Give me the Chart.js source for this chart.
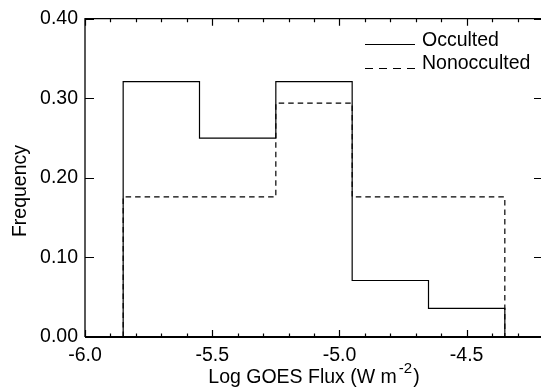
<!DOCTYPE html>
<html>
<head>
<meta charset="utf-8">
<script src="https://cdn.jsdelivr.net/npm/chart.js@4.4.0/dist/chart.umd.min.js"></script>
<style>
  html, body { margin: 0; padding: 0; background: #fff; overflow: hidden; }
  #wrap { position: absolute; left: 0; top: 0; width: 545px; height: 389px; }
</style>
</head>
<body>
<div id="wrap"><canvas id="histChart" width="545" height="389"></canvas></div>
<script>
// Histogram bins (log GOES flux) and fractions per bin
const binEdges = [-5.85, -5.55, -5.25, -4.95, -4.65, -4.35];
const occulted = [0.321, 0.250, 0.321, 0.071, 0.036];
const nonocculted = [0.176, 0.176, 0.294, 0.176, 0.176];
const seriesLabels = ['Occulted', 'Nonocculted'];
const xTicks = [-6.0, -5.5, -5.0, -4.5];
const yTicks = [0.0, 0.1, 0.2, 0.3, 0.4];
const xTitle = 'Log GOES Flux (W m';
const xTitleSup = '-2';
const yTitle = 'Frequency';

const FONT = "'Liberation Sans', Arial, Helvetica, sans-serif";
const FS = 19.5;

// turn bin values into step outline points
function toSteps(values) {
  const pts = [{ x: binEdges[0], y: 0 }];
  values.forEach((v, i) => pts.push({ x: binEdges[i], y: v }));
  pts.push({ x: binEdges[binEdges.length - 1], y: 0 });
  return pts;
}

// frame, inward ticks, legend and axis titles (IDL style)
const idlFrame = {
  id: 'idlFrame',
  afterDraw(chart) {
    const ctx = chart.ctx;
    const a = chart.chartArea;
    const xs = chart.scales.x;
    const ys = chart.scales.y;
    ctx.save();
    ctx.strokeStyle = '#000';
    ctx.setLineDash([]);

    // box
    ctx.lineWidth = 1.3;
    ctx.beginPath();
    ctx.moveTo(a.left, a.bottom);
    ctx.lineTo(a.left, a.top);
    ctx.lineTo(a.right, a.top);
    ctx.lineTo(a.right, a.bottom);
    ctx.stroke();
    ctx.lineWidth = 2;
    ctx.beginPath();
    ctx.moveTo(a.left, a.bottom);
    ctx.lineTo(a.right, a.bottom);
    ctx.stroke();

    // x ticks, minor every 0.1
    ctx.lineWidth = 1.2;
    ctx.beginPath();
    for (let k = 0; k <= 18; k++) {
      const v = xs.min + k * 0.1;
      const px = Math.round(xs.getPixelForValue(v)) + 0.5;
      const major = xTicks.some(t => Math.abs(t - v) < 1e-6);
      const len = major ? 7 : 3.5;
      ctx.moveTo(px, a.bottom);
      ctx.lineTo(px, a.bottom - len);
      ctx.moveTo(px, a.top);
      ctx.lineTo(px, a.top + len);
    }
    // y ticks
    yTicks.forEach(v => {
      const py = Math.round(ys.getPixelForValue(v)) + 0.5;
      ctx.moveTo(a.left, py);
      ctx.lineTo(a.left + 9, py);
      ctx.moveTo(a.right, py);
      ctx.lineTo(a.right - 9, py);
    });
    ctx.stroke();

    // legend
    ctx.fillStyle = '#000';
    ctx.font = FS + 'px ' + FONT;
    ctx.textAlign = 'left';
    ctx.textBaseline = 'alphabetic';
    const lx0 = 365, lx1 = 415;
    const rows = [{ y: 44.5, dash: [], base: 46 }, { y: 68.5, dash: [8, 6], base: 69 }];
    rows.forEach((r, i) => {
      ctx.lineWidth = 1.2;
      ctx.setLineDash(r.dash);
      ctx.beginPath();
      ctx.moveTo(lx0, r.y);
      ctx.lineTo(lx1, r.y);
      ctx.stroke();
      ctx.fillText(chart.data.datasets[i].label, 422, r.base);
    });
    ctx.setLineDash([]);

    // x title with superscript
    const mainFont = FS + 'px ' + FONT;
    const supFont = '15px ' + FONT;
    ctx.font = mainFont;
    const w1 = ctx.measureText(xTitle).width;
    const w3 = ctx.measureText(')').width;
    ctx.font = supFont;
    const w2 = ctx.measureText(xTitleSup).width;
    const total = w1 + 2 + w2 + 1 + w3;
    let tx = (a.left + a.right) / 2 - total / 2;
    ctx.font = mainFont;
    ctx.fillText(xTitle, tx, 383);
    tx += w1 + 2;
    ctx.font = supFont;
    ctx.fillText(xTitleSup, tx, 372.5);
    tx += w2 + 1;
    ctx.font = mainFont;
    ctx.fillText(')', tx, 383);

    // y title
    ctx.save();
    ctx.translate(25.5, 191);
    ctx.rotate(-Math.PI / 2);
    ctx.textAlign = 'center';
    ctx.fillText(yTitle, 0, 0);
    ctx.restore();

    ctx.restore();
  }
};

Chart.defaults.font.family = FONT;
Chart.defaults.color = '#000';

new Chart(document.getElementById('histChart').getContext('2d'), {
  type: 'line',
  data: {
    datasets: [
      {
        label: seriesLabels[0],
        data: toSteps(occulted),
        borderColor: '#000',
        borderWidth: 1.2,
        stepped: 'before',
        pointRadius: 0,
        fill: false
      },
      {
        label: seriesLabels[1],
        data: toSteps(nonocculted),
        borderColor: '#000',
        borderWidth: 1.2,
        borderDash: [5.5, 4],
        stepped: 'before',
        pointRadius: 0,
        fill: false
      }
    ]
  },
  options: {
    responsive: false,
    animation: false,
    devicePixelRatio: 1,
    layout: { padding: { top: 13, right: 2, left: 0, bottom: 0 } },
    plugins: {
      legend: { display: false },
      tooltip: { enabled: false }
    },
    scales: {
      x: {
        type: 'linear',
        min: -6.0,
        max: -4.2,
        grid: { display: false, drawTicks: false },
        border: { display: false },
        afterBuildTicks: s => { s.ticks = xTicks.map(v => ({ value: v })); },
        afterFit: s => { s.height = 52; },
        ticks: {
          autoSkip: false,
          maxRotation: 0,
          padding: 7,
          font: { size: FS },
          callback: v => v.toFixed(1)
        }
      },
      y: {
        min: 0,
        max: 0.4,
        grid: { display: false, drawTicks: false },
        border: { display: false },
        afterBuildTicks: s => { s.ticks = yTicks.map(v => ({ value: v })); },
        afterFit: s => { s.width = 85; },
        ticks: {
          padding: 7,
          font: { size: FS },
          callback: v => v.toFixed(2)
        }
      }
    }
  },
  plugins: [idlFrame]
});
</script>
</body>
</html>
